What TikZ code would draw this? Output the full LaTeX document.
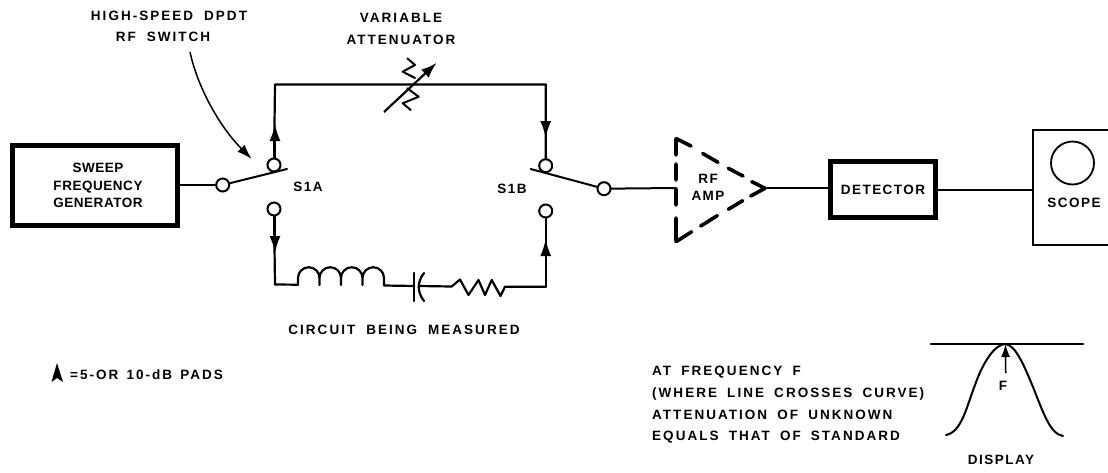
\documentclass[tikz,border=0pt]{standalone}
\usepackage{fontspec}
\setmainfont{Liberation Sans}
\newfontfamily\widefont[LetterSpace=15]{Liberation Sans}
\newfontfamily\midfont[LetterSpace=11]{Liberation Sans}
\newfontfamily\boxfont[LetterSpace=4]{Liberation Sans}
\newcommand\gapa{\hspace{5.2pt}}
\newcommand\gapb{\hspace{4.4pt}}
\newcommand\gapc{\hspace{2.4pt}}
\usetikzlibrary{arrows.meta,calc}
\tikzset{
  x=1pt,y=-1pt,
  wire/.style={line width=2.2pt,line cap=round,line join=round},
  thin wire/.style={line width=2pt,line cap=round,line join=round},
  heavybox/.style={draw,line width=4.5pt,minimum width=#1,inner sep=0pt,align=center},
  contact/.style={circle,draw,line width=2pt,fill=white,minimum size=13pt,inner sep=0pt},
  lbl/.style={font=\widefont\fontsize{13.5}{22}\selectfont\bfseries,inner sep=0pt,align=center},
  notelbl/.style={font=\widefont\fontsize{13.5}{21.7}\selectfont\bfseries,inner sep=0pt,align=left},
  mid/.style={font=\midfont\fontsize{13.5}{17}\selectfont\bfseries,inner sep=0pt,align=center},
  boxed/.style={font=\boxfont\fontsize{13.5}{17.5}\selectfont\bfseries,inner sep=0pt,align=center},
  pad/.style={-{Latex[length=17pt,width=11pt]},wire},
  ampdash/.style={line width=3.6pt,line cap=round},
}
\begin{document}
\begin{tikzpicture}
\useasboundingbox (0,0) rectangle (1108,472);
% boxes
\node[heavybox=165pt,minimum height=80pt,boxed] (gen) at (95,185.5) {\hspace*{6pt}SWEEP\\\hspace*{6pt}FREQUENCY\\\hspace*{6pt}GENERATOR};
\node[heavybox=105pt,minimum height=56pt,mid] (det) at (883,189.5) {DETECTOR};
% contacts
\node[contact] (pa) at (222.7,185) {};
\node[contact] (ua) at (274,165) {};
\node[contact] (la) at (274,209) {};
\node[contact] (ub) at (545.7,165.7) {};
\node[contact] (lb) at (545.7,211) {};
\node[contact] (pb) at (604,188.7) {};
\coordinate (ea) at (287,169);
\coordinate (eb) at (530.7,169);
\coordinate (tl) at (275,84.5);
\coordinate (tr) at (545.7,84.5);
\coordinate (bl) at (275,284.5);
\coordinate (br) at (545.7,286.7);
\draw[thin wire] (gen.east |- pa) -- (pa);
\draw[thin wire] (pa) -- (ea);
\draw[thin wire] (pb) -- (eb);
% top path and pads
\draw[wire] (ua) -- (tl) -- (tr) -- (ub);
\draw[pad] (ua.north -| tl) -- (275,124);
\draw[pad] (tr) -- (545.7,138);
\draw[wire] (la) -- (bl);
\draw[pad] (la.south -| bl) -- (275,253);
\draw[wire] (lb) -- (br);
\draw[pad] (br) -- (545.7,239);
% attenuator
\coordinate (ats) at (384,112);
\coordinate (ate) at (436.7,62.7);
\draw[-{Latex[length=16pt,width=11pt]},line width=2.2pt] (ats) -- (ate);
\draw[thin wire] (415,78) -- (402.7,71.7) -- (415,65) -- (407.3,58.3);
\draw[thin wire] (407.3,88.3) -- (418.7,96.7) -- (402.7,103.3) -- (410.7,110);
% bottom: inductor, capacitor, resistor
\coordinate (ls) at (298,284.7);
\coordinate (le) at (384,285.5);
\draw[wire] (bl) -- (ls) -- (298,278)
  arc[start angle=180,end angle=360,radius=10.75] -- (319.5,285) -- (319.5,278)
  arc[start angle=180,end angle=360,radius=10.75] -- (341,285) -- (341,278)
  arc[start angle=180,end angle=360,radius=10.75] -- (362.5,285) -- (362.5,278)
  arc[start angle=180,end angle=360,radius=10.75] -- (le) -- (414.3,286);
\draw[wire] (414.3,273) -- (414.3,301);
\draw[wire] (424,273) .. controls (417,282) and (417,292) .. (424,301);
\draw[wire] (419,286) -- (451.7,286.5) -- (460,279.5) -- (468.5,295) -- (478.5,280) -- (485,295) -- (491.7,280) -- (500.5,296) -- (505,286.7) -- (br);
% RF amp
\coordinate (ampin) at (676,188);
\coordinate (ampout) at (765.7,188.3);
\draw[thin wire] (pb) -- (ampin);
\draw[thin wire] (ampout) -- (det.west |- ampout);
\draw[ampdash]
  (676,139) -- (676,155) (676,164) -- (676,180) (676,189) -- (676,205) (676,218) -- (676,241)
  (676,138.5) -- (691,146) (702.7,153.5) -- (718,162.3) (728.3,168.3) -- (743,176) (751.7,181.7) -- (765,188.3)
  (765,188.3) -- (750.7,196) (742.7,200.7) -- (728.3,209.3) (717.3,215.7) -- (700.7,226) (691.7,231.7) -- (676,241.7);
\node[mid] (rf) at (708,187.5) {RF\\AMP};
% scope
\coordinate (sctl) at (1033,130);
\coordinate (scbl) at (1033,245);
\draw[line width=1.8pt] (1108,130) -- (sctl) -- (scbl) -- (1108,245);
\node[circle,draw,line width=1.8pt,minimum size=43pt,inner sep=0pt] (crt) at (1072.5,163) {};
\node[mid] (sc) at (1074,203) {SCOPE};
\draw[thin wire] (det.east) -- (det.east -| sctl);
% labels
\node[lbl] (hs) at (169,16) {HIGH-SPEED \gapa DPDT};
\node[lbl] (rfs) at (163,37) {RF \gapa SWITCH};
\coordinate (hsa) at (190,52);
\coordinate (hsb) at (251.7,159);
\draw[-{Latex[length=15pt,width=10pt]},line width=1.5pt] (hsa) .. controls (197,85) and (218,125) .. (hsb);
\node[lbl] (va) at (401,29) {VARIABLE\\ATTENUATOR};
\node[mid] (s1a) at (308,187) {S1A};
\node[mid] (s1b) at (512,189) {S1B};
\node[lbl] (cbm) at (404,330) {CIRCUIT \gapa BEING \gapa MEASURED};
% legend
\coordinate (legt) at (57,363);
\fill (legt) -- (63,382) -- (57,378) -- (51.5,382) -- cycle;
\node[notelbl,anchor=west] (legtxt) at (70,375) {=5-OR \gapc 10-dB \gapc PADS};
% note
\node[notelbl,anchor=north west] (note) at (652,366) {AT \gapb FREQUENCY \gapb F\\(WHERE \gapb LINE \gapb CROSSES \gapb CURVE)\\ATTENUATION \gapb OF \gapb UNKNOWN\\EQUALS \gapb THAT \gapb OF \gapb STANDARD};
% display
\coordinate (dl) at (931,343.7);
\coordinate (dr) at (1083,343.7);
\coordinate (pk) at (1005.5,344);
\draw[wire] (dl) -- (dr);
\draw[thin wire] (946,435) .. controls (962,432) and (967,405) .. (975,385) .. controls (983,362) and (995,344) .. (pk) .. controls (1016,345) and (1025,368) .. (1033,387) .. controls (1043,412) and (1050,434) .. (1063,436);
\coordinate (fa) at (1005.7,373);
\draw[-{Latex[length=13pt,width=9pt]},line width=1.6pt] (fa) -- (pk);
\node[mid] (ff) at (1003,386) {F};
\node[mid] (disp) at (1001,460) {DISPLAY};
\end{tikzpicture}
\end{document}
